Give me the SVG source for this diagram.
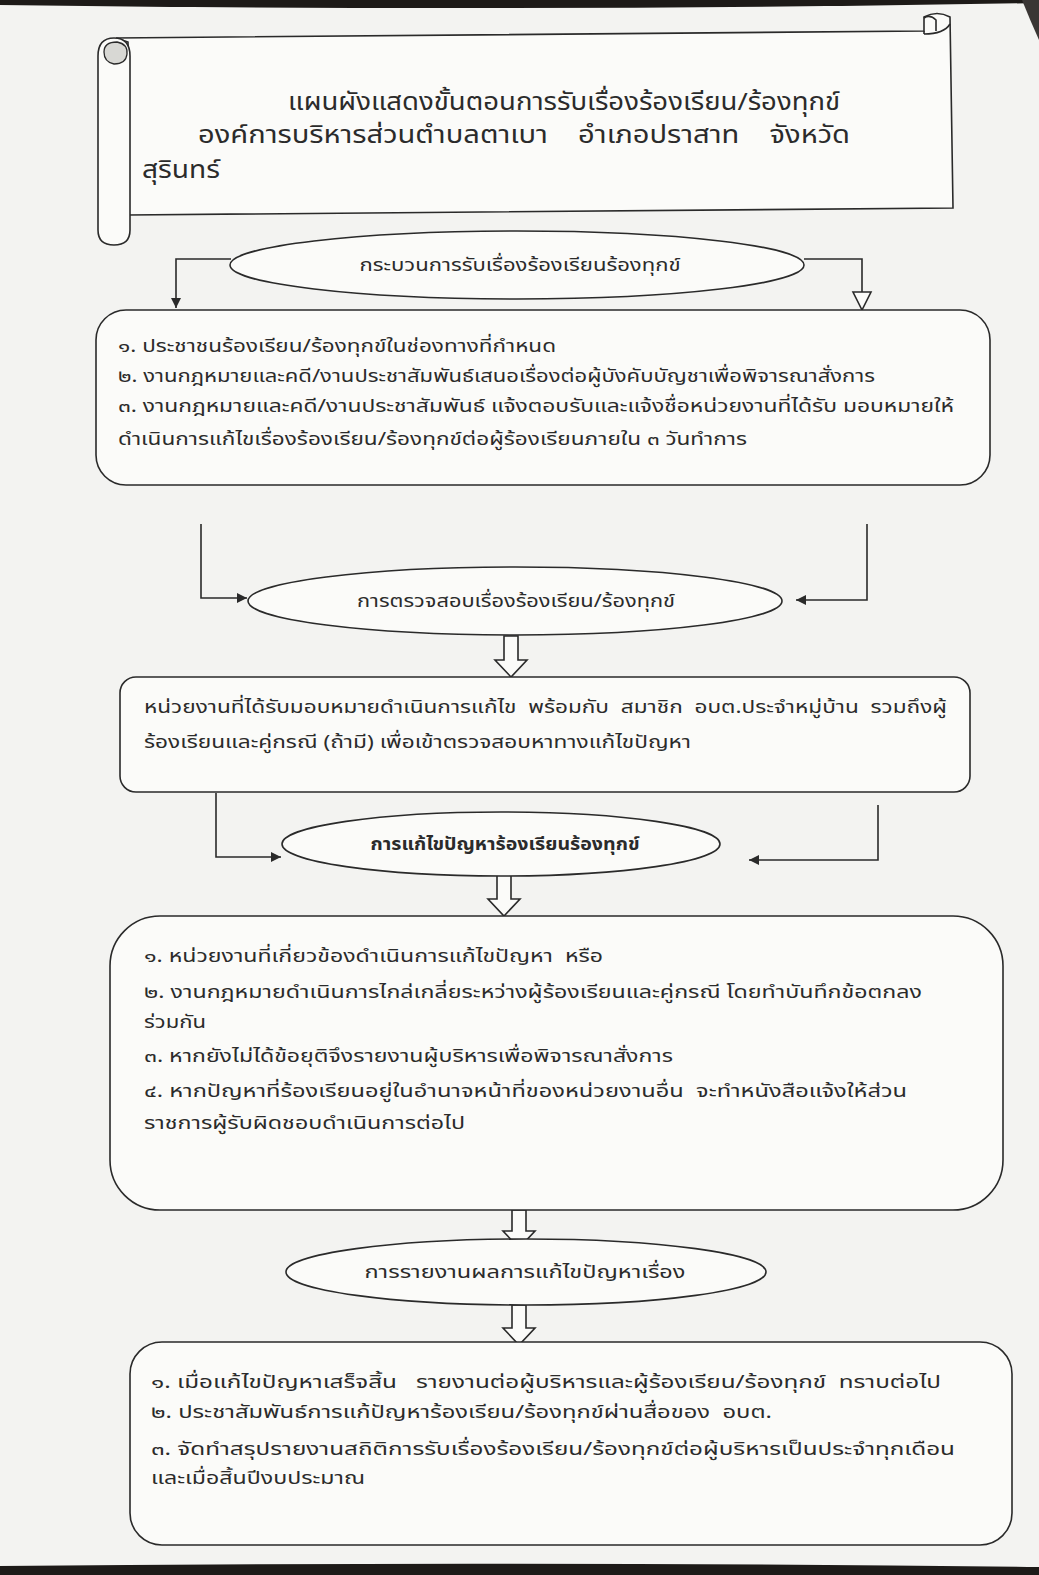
<svg xmlns="http://www.w3.org/2000/svg" width="1039" height="1575" viewBox="0 0 1039 1575" xml:space="preserve">
<style>
.ln{fill:none;stroke:#2a2a2a;stroke-width:1.6}
.shape{fill:#fbfbf9;stroke:#2a2a2a;stroke-width:1.6}
.t{font-family:"Noto Sans Thai","Noto Sans","DejaVu Sans",sans-serif;fill:#2b2b2b;white-space:pre}
.title{font-size:24px}
.body{font-size:18px}
.lbl{font-size:18px;text-anchor:middle}
</style>
<defs>
<marker id="ah" viewBox="0 0 10 10" refX="10" refY="5" markerWidth="10" markerHeight="10" markerUnits="userSpaceOnUse" orient="auto">
<path d="M0,0 L10,5 L0,10 z" fill="#2a2a2a"/>
</marker>
</defs>
<rect x="0" y="0" width="1039" height="1575" fill="#f3f3f1"/>
<path d="M0 0 H1039 V3 Q520 12 0 5 Z" fill="#1d1a18"/>
<path d="M1022 0 H1039 V40 Q1030 20 1022 0 Z" fill="#3a3634"/>
<path d="M0 1566 Q520 1561 1039 1567 V1575 H0 Z" fill="#1d1a18"/>

<g id="title">
<path class="shape" d="M116 38 L924 31 L924 17 Q937 10 950 17 L953 208 L128 215 L128 42 Z"/>
<path class="ln" d="M924 31 L924 34 M936 31 L936 20 Q930 14 924 18 M924 34 Q944 34 950 24"/>
<path class="shape" d="M98 56 Q98 38 114 38 Q130 38 130 56 L130 230 Q130 245 114 245 Q98 245 98 230 Z"/>
<path d="M114 64 Q104 62 104 52 Q104 42 117 42 Q128 44 127 54 Q126 64 114 64 Z" fill="#d8d8d4" stroke="#2a2a2a" stroke-width="1.3"/>
<text class="t title" x="288" y="110" textLength="552" lengthAdjust="spacingAndGlyphs">แผนผังแสดงขั้นตอนการรับเรื่องร้องเรียน/ร้องทุกข์</text>
<text class="t title" x="198" y="143" textLength="652" lengthAdjust="spacingAndGlyphs">องค์การบริหารส่วนตำบลตาเบา    อำเภอปราสาท    จังหวัด</text>
<text class="t title" x="142" y="178" textLength="78" lengthAdjust="spacingAndGlyphs">สุรินทร์</text>
</g>

<g id="connectors">
<path class="ln" d="M231 259 H176 V308" marker-end="url(#ah)"/>
<path class="ln" d="M804 259 H862 V292"/>
<path class="shape" d="M853 292 L871 292 L862 310 Z"/>
<path class="ln" d="M201 524 V598 H247" marker-end="url(#ah)"/>
<path class="ln" d="M867 524 V600 H796" marker-end="url(#ah)"/>
<path class="shape" d="M504 636 H518 V660 H527 L511 677 L495 660 H504 Z"/>
<path class="ln" d="M216 793 V857 H281" marker-end="url(#ah)"/>
<path class="ln" d="M878 805 V860 H749" marker-end="url(#ah)"/>
<path class="shape" d="M497 875 H511 V899 H520 L504 916 L488 899 H497 Z"/>
<path class="shape" d="M512 1210 H526 V1231 H535 L519 1248 L503 1231 H512 Z"/>
<path class="shape" d="M512 1305 H526 V1328 H535 L519 1345 L503 1328 H512 Z"/>
</g>

<g id="start">
<ellipse class="shape" cx="517" cy="265" rx="287" ry="34"/>
<text class="t lbl" x="520" y="271" textLength="321" lengthAdjust="spacingAndGlyphs">กระบวนการรับเรื่องร้องเรียนร้องทุกข์</text>
</g>

<g id="box1">
<rect class="shape" x="96" y="310" width="894" height="175" rx="30"/>
<text class="t body" x="118" y="352" textLength="438" lengthAdjust="spacingAndGlyphs">๑. ประชาชนร้องเรียน/ร้องทุกข์ในช่องทางที่กำหนด</text>
<text class="t body" x="118" y="382" textLength="757" lengthAdjust="spacingAndGlyphs">๒. งานกฎหมายและคดี/งานประชาสัมพันธ์เสนอเรื่องต่อผู้บังคับบัญชาเพื่อพิจารณาสั่งการ</text>
<text class="t body" x="118" y="412" textLength="836" lengthAdjust="spacingAndGlyphs">๓. งานกฎหมายและคดี/งานประชาสัมพันธ์ แจ้งตอบรับและแจ้งชื่อหน่วยงานที่ได้รับ มอบหมายให้</text>
<text class="t body" x="118" y="445" textLength="629" lengthAdjust="spacingAndGlyphs">ดำเนินการแก้ไขเรื่องร้องเรียน/ร้องทุกข์ต่อผู้ร้องเรียนภายใน ๓ วันทำการ</text>
</g>

<g id="check">
<ellipse class="shape" cx="515" cy="601" rx="267" ry="34"/>
<text class="t lbl" x="516" y="607" textLength="318" lengthAdjust="spacingAndGlyphs">การตรวจสอบเรื่องร้องเรียน/ร้องทุกข์</text>
</g>

<g id="box2">
<rect class="shape" x="120" y="677" width="850" height="115" rx="16"/>
<text class="t body" x="144" y="713" textLength="803" lengthAdjust="spacingAndGlyphs">หน่วยงานที่ได้รับมอบหมายดำเนินการแก้ไข  พร้อมกับ  สมาชิก  อบต.ประจำหมู่บ้าน  รวมถึงผู้</text>
<text class="t body" x="144" y="748" textLength="547" lengthAdjust="spacingAndGlyphs">ร้องเรียนและคู่กรณี (ถ้ามี) เพื่อเข้าตรวจสอบหาทางแก้ไขปัญหา</text>
</g>

<g id="solve">
<ellipse class="shape" cx="501" cy="844" rx="219" ry="32"/>
<text class="t lbl" x="505" y="850" textLength="269" lengthAdjust="spacingAndGlyphs" font-weight="bold">การแก้ไขปัญหาร้องเรียนร้องทุกข์</text>
</g>

<g id="box3">
<rect class="shape" x="110" y="916" width="893" height="294" rx="50"/>
<text class="t body" x="144" y="962" textLength="459" lengthAdjust="spacingAndGlyphs">๑. หน่วยงานที่เกี่ยวข้องดำเนินการแก้ไขปัญหา  หรือ</text>
<text class="t body" x="144" y="998" textLength="778" lengthAdjust="spacingAndGlyphs">๒. งานกฎหมายดำเนินการไกล่เกลี่ยระหว่างผู้ร้องเรียนและคู่กรณี โดยทำบันทึกข้อตกลง</text>
<text class="t body" x="144" y="1028" textLength="62" lengthAdjust="spacingAndGlyphs">ร่วมกัน</text>
<text class="t body" x="144" y="1062" textLength="529" lengthAdjust="spacingAndGlyphs">๓. หากยังไม่ได้ข้อยุติจึงรายงานผู้บริหารเพื่อพิจารณาสั่งการ</text>
<text class="t body" x="144" y="1097" textLength="763" lengthAdjust="spacingAndGlyphs">๔. หากปัญหาที่ร้องเรียนอยู่ในอำนาจหน้าที่ของหน่วยงานอื่น  จะทำหนังสือแจ้งให้ส่วน</text>
<text class="t body" x="144" y="1129" textLength="321" lengthAdjust="spacingAndGlyphs">ราชการผู้รับผิดชอบดำเนินการต่อไป</text>
</g>

<g id="report">
<ellipse class="shape" cx="526" cy="1272" rx="240" ry="33"/>
<text class="t lbl" x="525" y="1278" textLength="321" lengthAdjust="spacingAndGlyphs">การรายงานผลการแก้ไขปัญหาเรื่อง</text>
</g>

<g id="box4">
<rect class="shape" x="130" y="1342" width="882" height="203" rx="32"/>
<text class="t body" x="151" y="1388" textLength="790" lengthAdjust="spacingAndGlyphs">๑. เมื่อแก้ไขปัญหาเสร็จสิ้น   รายงานต่อผู้บริหารและผู้ร้องเรียน/ร้องทุกข์  ทราบต่อไป</text>
<text class="t body" x="151" y="1418" textLength="621" lengthAdjust="spacingAndGlyphs">๒. ประชาสัมพันธ์การแก้ปัญหาร้องเรียน/ร้องทุกข์ผ่านสื่อของ  อบต.</text>
<text class="t body" x="151" y="1455" textLength="804" lengthAdjust="spacingAndGlyphs">๓. จัดทำสรุปรายงานสถิติการรับเรื่องร้องเรียน/ร้องทุกข์ต่อผู้บริหารเป็นประจำทุกเดือน</text>
<text class="t body" x="151" y="1484" textLength="214" lengthAdjust="spacingAndGlyphs">และเมื่อสิ้นปีงบประมาณ</text>
</g>
</svg>
